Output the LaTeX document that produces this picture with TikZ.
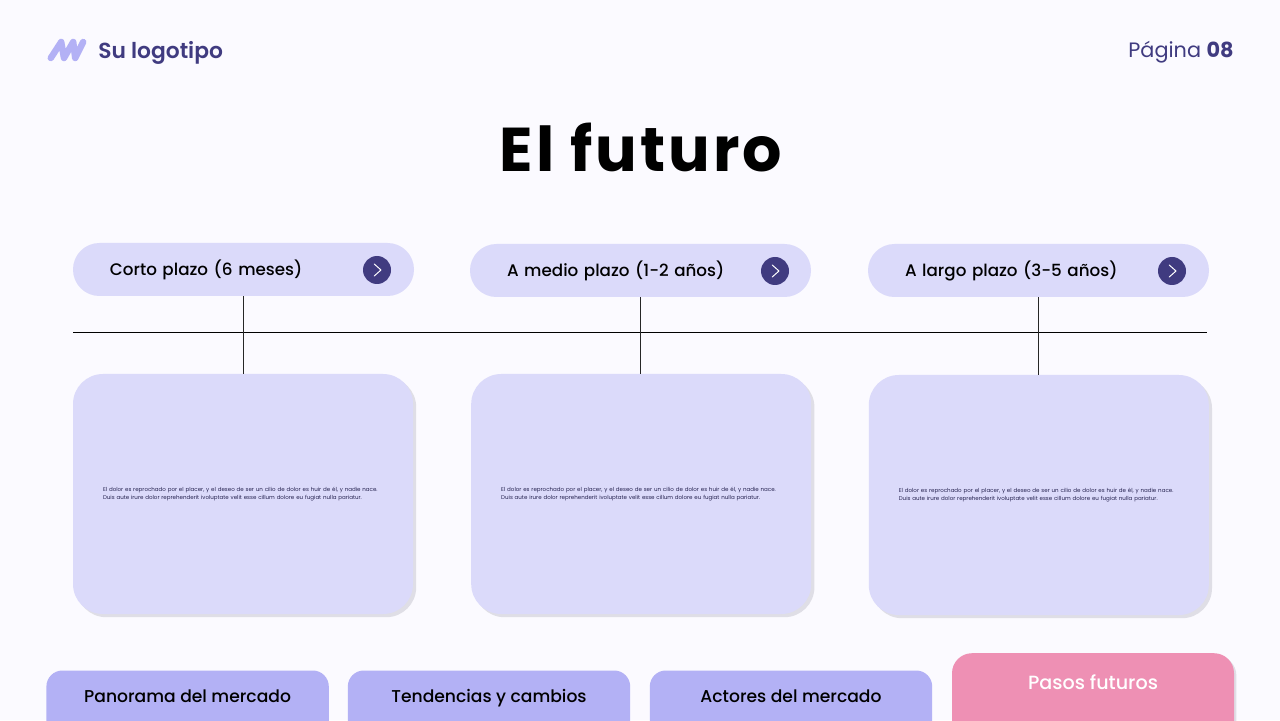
\documentclass[tikz,border=0pt]{standalone}
\usepackage{fontspec}
\setmainfont{Poppins}
\newfontfamily\medfont{Poppins Medium}
\newfontfamily\semifont{Poppins SemiBold}
\newfontfamily\titlefont[LetterSpace=4.8]{Poppins}
\usetikzlibrary{shadows}
\definecolor{pagebg}{HTML}{FBFAFF}
\definecolor{navy}{HTML}{403B80}
\definecolor{inkblue}{HTML}{25224F}
\definecolor{lilac}{HTML}{DBDAFA}
\definecolor{tabblue}{HTML}{B3B1F5}
\definecolor{tabpink}{HTML}{EE90B4}
\definecolor{softshadow}{HTML}{DFDEE6}
\tikzset{
	pillbox/.style={fill=lilac,rounded corners=.66cm,minimum width=8.525cm,minimum height=1.325cm,
		inner xsep=.925cm,inner ysep=0pt,text width=6.675cm,align=left,
		font=\medfont\fontsize{11.9}{14}\selectfont,text=black},
	btnbox/.style={circle,fill=navy,minimum size=.7cm,inner sep=0pt},
	chevron/.style={draw=white,line width=.7pt,line cap=round,line join=round},
	cardbox/.style={fill=lilac,rounded corners=.75cm,minimum width=8.5cm,minimum height=6cm,
		inner xsep=.75cm,text width=7cm,align=left,text=inkblue,
		font=\fontsize{3.93}{5.4}\selectfont,
		drop shadow={shadow xshift=.08cm,shadow yshift=-.08cm,fill=softshadow,opacity=1}},
	tabbox/.style={fill=tabblue,rounded corners=.4cm,minimum width=7.06cm,minimum height=2.225cm},
	pinkbox/.style={fill=tabpink,rounded corners=.5cm,minimum width=7.05cm,minimum height=2.7cm,
		drop shadow={shadow xshift=.06cm,shadow yshift=-.06cm,fill=softshadow,opacity=1}},
	tablabel/.style={font=\medfont\fontsize{12.2}{14}\selectfont,text=black,inner sep=0pt},
	stem/.style={line width=1.3pt,draw=black!85},
}
\newcommand{\btnchevron}[1]{
	\draw[chevron] ([xshift=-.07cm,yshift=.15cm]#1.center) -- ([xshift=.1cm]#1.center) -- ([xshift=-.07cm,yshift=-.15cm]#1.center);
}
\begin{document}
\begin{tikzpicture}
	\useasboundingbox (0,0) rectangle (32,18);
	\fill[pagebg] (0,0) rectangle (32,18);
	\clip (0,0) rectangle (32,18);

	% header
	\draw[tabblue,line width=4.6pt,line cap=round,line join=round]
		(1.27,16.55) -- (1.53,16.95) -- (1.6,16.55) -- (1.83,16.95) -- (1.88,16.55) -- (2.08,16.95);
	\node[anchor=west,inner sep=0pt,text=navy] (logoname) at (2.45,16.67) {\semifont\fontsize{15.5}{18}\selectfont Su logotipo};
	\node[anchor=east,inner sep=0pt,text=navy] (pagenum) at (30.85,16.7) {\fontsize{14.8}{18}\selectfont Página \textbf{08}};
	\node[inner sep=0pt,text=black] (title) at (16.02,14.32) {\titlefont\fontsize{44}{52}\selectfont\bfseries El futuro};

	% pills
	\node[pillbox] (pillcorto) at (6.0875,11.2625) {Corto plazo (6 meses)};
	\node[pillbox] (pillmedio) at (16.0125,11.2375) {A medio plazo (1-2 años)};
	\node[pillbox] (pilllargo) at (25.9625,11.2375) {A largo plazo (3-5 años)};
	\node[btnbox] (btncorto) at (9.425,11.25) {};
	\node[btnbox] (btnmedio) at (19.375,11.225) {};
	\node[btnbox] (btnlargo) at (29.3,11.225) {};
	\btnchevron{btncorto}
	\btnchevron{btnmedio}
	\btnchevron{btnlargo}

	% cards
	\node[cardbox] (cardcorto) at (6.075,5.65) {El dolor es reprochado por el placer, y el deseo de ser un cilio de dolor es huir de él, y nadie nace.\\Duis aute irure dolor reprehenderit ivoluptate velit esse cillum dolore eu fugiat nulla pariatur.};
	\node[cardbox] (cardmedio) at (16.03,5.65) {El dolor es reprochado por el placer, y el deseo de ser un cilio de dolor es huir de él, y nadie nace.\\Duis aute irure dolor reprehenderit ivoluptate velit esse cillum dolore eu fugiat nulla pariatur.};
	\node[cardbox] (cardlargo) at (25.97,5.625) {El dolor es reprochado por el placer, y el deseo de ser un cilio de dolor es huir de él, y nadie nace.\\Duis aute irure dolor reprehenderit ivoluptate velit esse cillum dolore eu fugiat nulla pariatur.};

	% timeline
	\coordinate (lineleft) at (1.825,9.7);
	\coordinate (lineright) at (30.175,9.7);
	\draw[line width=.7pt] (lineleft) -- (lineright);
	\draw[stem] (pillcorto.south) -- (pillcorto.south |- cardcorto.north);
	\draw[stem] (pillmedio.south) -- (pillmedio.south |- cardmedio.north);
	\draw[stem] (pilllargo.south) -- (pilllargo.south |- cardlargo.north);

	% bottom tabs
	\node[tabbox] (tabpanorama) at (4.69,.125) {};
	\node[tabbox] (tabtendencias) at (12.225,.125) {};
	\node[tabbox] (tabactores) at (19.775,.125) {};
	\node[pinkbox] (tabpasos) at (27.325,.32) {};
	\node[tablabel] (labelpanorama) at ([yshift=-.64cm]tabpanorama.north) {Panorama del mercado};
	\node[tablabel] (labeltendencias) at ([yshift=-.69cm]tabtendencias.north) {Tendencias y cambios};
	\node[tablabel] (labelactores) at ([yshift=-.64cm]tabactores.north) {Actores del mercado};
	\node[tablabel,text=white,font=\medfont\fontsize{13.6}{16}\selectfont] (labelpasos) at ([yshift=-.74cm]tabpasos.north) {Pasos futuros};
\end{tikzpicture}
\end{document}
